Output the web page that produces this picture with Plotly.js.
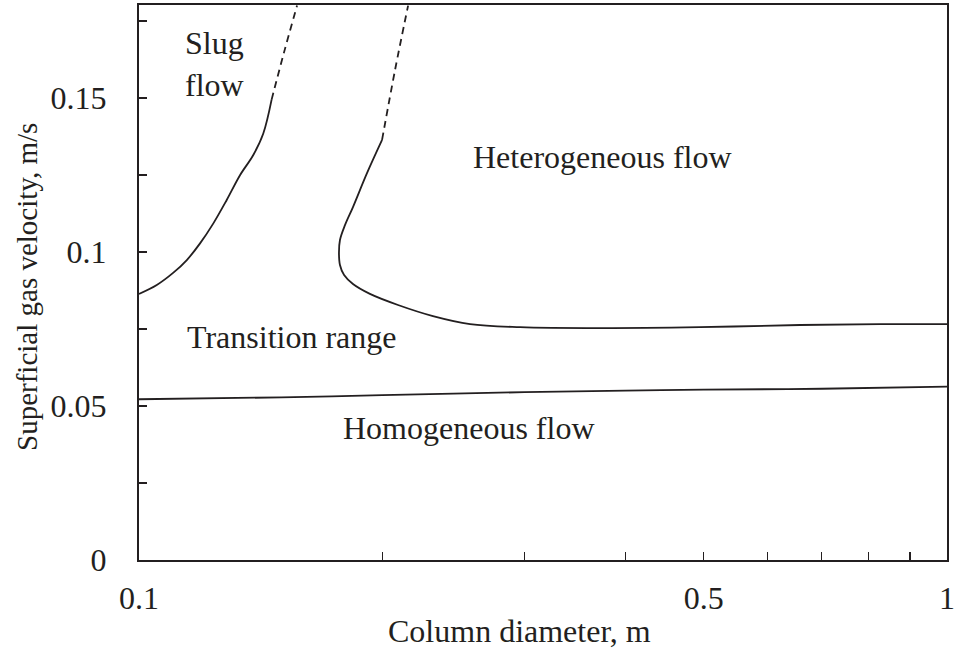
<!DOCTYPE html>
<html>
<head>
<meta charset="utf-8">
<script src="https://cdn.plot.ly/plotly-3.0.1.min.js"></script>
<style>html,body{margin:0;padding:0;background:#fff;}#chart{width:957px;height:652px;}</style>
</head>
<body>
<div id="chart"></div>
<script>
// Homogeneous / transition boundary
var homX = [0.1, 0.15, 0.2, 0.3, 0.4, 0.5, 0.7, 1.0];
var homY = [0.0522, 0.0528, 0.0535, 0.0545, 0.0550, 0.0553, 0.0556, 0.0563];
// Transition / heterogeneous boundary (solid part)
var hetX = [0.1999, 0.1915, 0.1840, 0.1799, 0.1773, 0.1768, 0.1773, 0.1794, 0.1840, 0.1931, 0.2092, 0.2311, 0.2569, 0.2962, 0.3720, 0.4946, 0.6578, 0.8264, 1.0];
var hetY = [0.1364, 0.1256, 0.1146, 0.1088, 0.1039, 0.0997, 0.0958, 0.0925, 0.0896, 0.0864, 0.0828, 0.0792, 0.0766, 0.0756, 0.0753, 0.0756, 0.0763, 0.0766, 0.0766];
// its dashed extension
var hetDashX = [0.1999, 0.2074, 0.2153];
var hetDashY = [0.1364, 0.1590, 0.1800];
// Slug flow boundary (solid part)
var slugX = [0.1, 0.1052, 0.1103, 0.1146, 0.1190, 0.1236, 0.1284, 0.1334, 0.1385, 0.1425, 0.1459];
var slugY = [0.0864, 0.0893, 0.0933, 0.0974, 0.1028, 0.1093, 0.1169, 0.1250, 0.1315, 0.1385, 0.1494];
// its dashed extension
var slugDashX = [0.1459, 0.1512, 0.1569];
var slugDashY = [0.1494, 0.1649, 0.1800];

var xTickVals = [0.1, 0.2, 0.3, 0.4, 0.5, 0.6, 0.7, 0.8, 0.9, 1];
var xTickText = ['0.1', '', '', '', '0.5', '', '', '', '', '1'];
var yTickVals = [0, 0.025, 0.05, 0.075, 0.1, 0.125, 0.15, 0.175];
var yTickText = ['0', '', '0.05', '', '0.1', '', '0.15', ''];

var regionLabels = ['Slug<br>flow', 'Transition range', 'Heterogeneous flow', 'Homogeneous flow'];
var xTitle = 'Column diameter, m';
var yTitle = 'Superficial gas velocity, m/s';

var ink = '#231f20';
var FONT = "'Liberation Serif', 'Times New Roman', serif";
var FS = 32;

function line(x, y, dash) {
  return {x: x, y: y, type: 'scatter', mode: 'lines', hoverinfo: 'skip',
    line: {color: ink, width: 1.8, dash: dash || 'solid', shape: 'spline', smoothing: 1}};
}
var data = [
  line(homX, homY),
  line(hetX, hetY),
  line(hetDashX, hetDashY, '7px,5px'),
  line(slugX, slugY),
  line(slugDashX, slugDashY, '7px,5px')
];

var layout = {
  width: 957, height: 652,
  margin: {l: 139, r: 10, t: 5, b: 92},
  paper_bgcolor: '#fff', plot_bgcolor: '#fff',
  showlegend: false,
  font: {family: FONT, size: FS, color: ink},
  xaxis: {
    type: 'log', range: [-1, 0],
    tickmode: 'array', tickvals: xTickVals, ticktext: xTickText,
    ticks: 'inside', ticklen: 8, tickwidth: 1.3, tickcolor: ink,
    showline: true, linecolor: ink, linewidth: 2, mirror: true,
    showgrid: false, zeroline: false, ticklabelstandoff: 9,
    tickfont: {family: FONT, size: FS, color: ink}
  },
  yaxis: {
    range: [0, 0.1802],
    tickmode: 'array', tickvals: yTickVals, ticktext: yTickText,
    ticks: 'inside', ticklen: 8, tickwidth: 1.3, tickcolor: ink,
    showline: true, linecolor: ink, linewidth: 2, mirror: true,
    showgrid: false, zeroline: false, ticklabelstandoff: 24,
    tickfont: {family: FONT, size: FS, color: ink}
  },
  annotations: [
    {text: regionLabels[0], xref: 'paper', yref: 'paper', x: 0.0545, y: 0.894, xanchor: 'left', yanchor: 'middle', align: 'left', showarrow: false},
    {text: regionLabels[1], xref: 'paper', yref: 'paper', x: 0.189, y: 0.402, xanchor: 'center', yanchor: 'middle', showarrow: false},
    {text: regionLabels[2], xref: 'paper', yref: 'paper', x: 0.574, y: 0.726, xanchor: 'center', yanchor: 'middle', showarrow: false},
    {text: regionLabels[3], xref: 'paper', yref: 'paper', x: 0.408, y: 0.238, xanchor: 'center', yanchor: 'middle', showarrow: false},
    {text: xTitle, xref: 'paper', yref: 'paper', x: 0.4715, y: -0.128, xanchor: 'center', yanchor: 'middle', showarrow: false},
    {text: yTitle, xref: 'paper', yref: 'paper', x: -0.1386, y: 0.492, xanchor: 'center', yanchor: 'middle', textangle: -90, showarrow: false, font: {family: FONT, size: 29, color: ink}}
  ]
};

Plotly.newPlot('chart', data, layout, {displayModeBar: false, staticPlot: true});
</script>
</body>
</html>
